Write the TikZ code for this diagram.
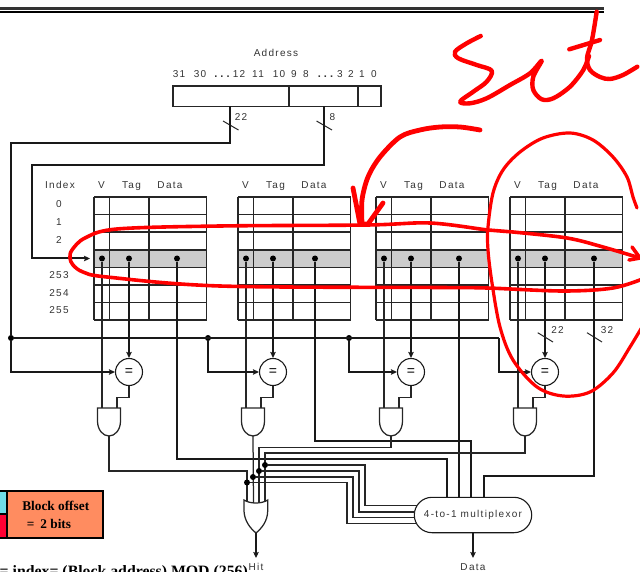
\documentclass[tikz,border=0pt]{standalone}
\usepackage{xcolor}
\usepackage{fontspec}
\setmainfont[LetterSpace=13]{Liberation Sans}
\newfontfamily\slidefont{Liberation Serif}
\usepackage{tikz}
\usetikzlibrary{arrows.meta,positioning,calc,shapes.misc}
\definecolor{inkred}{HTML}{FF0000}
\definecolor{offsetbox}{HTML}{FF8C60}
\definecolor{indexbox}{HTML}{70DCE8}
\definecolor{tagbox}{HTML}{FF0033}

\begin{document}
\begin{tikzpicture}[x=1pt, y=-1pt,
  lab/.style={font=\fontsize{10}{12}\selectfont, text=black!80, inner sep=0pt},
  cell/.style={line width=1.1pt, draw=black!85},
  wire/.style={line width=2pt, draw=black!90},
  thinwire/.style={line width=1.25pt, draw=black!85},
  arr/.style={wire, -{Stealth[length=6pt,width=5.5pt,inset=1pt]}},
  dot/.style={circle, fill=black, inner sep=0pt, minimum size=6pt},
  eqnode/.style={circle, draw=black!90, line width=1.1pt, fill=white, inner sep=0pt,
    minimum size=27pt, font=\fontsize{14}{14}\selectfont},
  tick/.style={line width=1pt, draw=black!85},
  ink/.style={draw=inkred, line cap=round, line join=round, line width=3.6pt}]
  \path[use as bounding box, clip] (0,0) rectangle (640,572);

  % top rule of the slide
  \draw[line width=2.2pt, black!80] (0,8.5) -- (604,8.5);
  \draw[line width=1.2pt] (0,12) -- (604,12);

  % address register
  \node[lab] (addrlabel) at (276,53) {Address};
  \foreach \t/\x in {31/179,30/200,12/239,11/258,10/279,9/294,8/306,3/340,2/351,1/362,0/374}
    \node[lab] (bit\t) at (\x,74) {\t};
  \node[lab, font=\bfseries\fontsize{11}{12}\selectfont, anchor=base] (dotsa) at (222,77.5) {.\hspace{3pt}.\hspace{3pt}.};
  \node[lab, font=\bfseries\fontsize{11}{12}\selectfont, anchor=base] (dotsb) at (325.5,77.5) {.\hspace{3pt}.\hspace{3pt}.};
  \draw[cell] (173,86) rectangle (381,106.5);
  \draw[cell] (289,86) -- (289,106.5) (358,86) -- (358,106.5);
  \coordinate (tagout) at (230,106.5);
  \coordinate (idxout) at (324,106.5);
  \coordinate (tagbend) at (11,143);
  \coordinate (idxbend) at (32,165);
  \coordinate (idxin) at (90,258.5);
  \draw[tick] (223,121) -- (238.5,130);
  \draw[tick] (316.5,121) -- (332,130);
  \node[lab] (taglen) at (241,117) {22};
  \node[lab] (idxlen) at (332.5,117) {8};

  % index labels
  \node[lab, anchor=base] (idxhead) at (60,188.5) {Index};
  \foreach \t/\y in {0/204,1/222,2/240,253/275,254/293,255/310}
    \node[lab] (row\t) at (59,\y) {\t};

  % the four ways
  \foreach \n/\xl/\xd in {1/94/177,2/238/315,3/376/459,4/510/594} {
    \fill[black!20] (\xl,250) rectangle (\xl+112.5,267.7);
    \foreach \y in {197,214.4,232,250,267.7,285,302.7,320}
      \draw[cell] (\xl,\y) -- (\xl+112.5,\y);
    \foreach \dx in {0,15.5,55,112.5}
      \draw[cell] (\xl+\dx,197) -- (\xl+\dx,320);
    \node[lab, anchor=base] (vhead\n) at (\xl+7.5,188.5) {V};
    \node[lab, anchor=base] (taghead\n) at (\xl+37.5,188.5) {Tag};
    \node[lab, anchor=base] (datahead\n) at (\xl+76,188.5) {Data};
    \node[dot] (v\n) at (\xl+8,258.5) {};
    \node[dot] (tag\n) at (\xl+35,258.5) {};
    \node[dot] (data\n) at (\xd,258.5) {};
    \node[eqnode] (eq\n) at (\xl+35,372) {=};
    \draw[arr] (tag\n) -- (eq\n);
    \coordinate (anda\n) at (\xl+8,408);
    \coordinate (andb\n) at (\xl+23,408);
    \coordinate (andout\n) at (\xl+15,436);
    \draw[thinwire] (v\n) -- (anda\n);
    \draw[thinwire] (eq\n.south) -- ++(0,11.5) -| (andb\n);
    \draw[thinwire] (\xl+3.5,408) -- (\xl+26.5,408) -- (\xl+26.5,421)
      .. controls (\xl+26.5,430) and (\xl+21,436) .. (andout\n)
      .. controls (\xl+9,436) and (\xl+3.5,430) .. (\xl+3.5,421) -- cycle;
  }
  \draw[tick] (537.7,332.7) -- (553,342);
  \draw[tick] (587,332.7) -- (602,342);
  \node[lab] (taglenb) at (557.5,330) {22};
  \node[lab] (datalen) at (607,330) {32};

  % tag and index lines from the address
  \node[dot] (busa) at (11,338) {};
  \node[dot] (busb) at (208,338) {};
  \node[dot] (busc) at (349,338) {};
  \coordinate (busend) at (499,338);
  \draw[wire] (tagout) |- (tagbend) -- (busa);
  \draw[wire] (busa) -- (busend);
  \draw[arr] (idxout) |- (idxbend) |- (idxin);
  \draw[arr] (busa) |- (eq1);
  \draw[arr] (busb) |- (eq2);
  \draw[arr] (busc) |- (eq3);
  \draw[arr] (busend) |- (eq4);

  % multiplexor
  \node[draw=black!90, line width=1.1pt, rounded rectangle, minimum width=117.4pt,
    minimum height=35.4pt, inner sep=0pt, lab] (mux) at (473,515) {4-to-1 multiplexor};
  \foreach \n/\y/\x in {1/459/446.7,2/441/471,4/476/484} {
    \coordinate (mtop\n) at (\x,497.3);
    \draw[wire] (data\n) |- (\x,\y) -- (mtop\n);
  }
  \coordinate (mtop3) at (459,497.3);
  \draw[wire] (data3) -- (mtop3);
  \coordinate (dataout) at (473,558);
  \draw[arr] (mux) -- (dataout);
  \node[lab] (datalabel) at (473,567.5) {Data};

  % hit logic
  \coordinate (ora) at (247,502);
  \coordinate (orb) at (253.5,503);
  \coordinate (orc) at (259,503);
  \coordinate (ord) at (265,501.5);
  \coordinate (orout) at (256,533);
  \coordinate (hitout) at (256,558);
  \draw[thinwire] (andout1) -- ++(0,35) -| (ora);
  \draw[thinwire] (andout2) -- (orb);
  \draw[thinwire] (andout3) -- ++(0,11.5) -| (orc);
  \draw[thinwire] (andout4) -- ++(0,17) -| (ord);
  \draw[thinwire] (244,500) .. controls (250,504) and (262,504) .. (267.7,500)
    -- (267.7,511) .. controls (267.5,521) and (262,528) .. (orout)
    .. controls (250,528) and (244.5,521) .. (244,511) -- cycle;
  \draw[arr, line width=1.1pt] (orout) -- (hitout);
  \node[lab] (hitlabel) at (256,567) {Hit};
  \node[dot] (ja) at (247,482.5) {};
  \node[dot] (jb) at (253,477) {};
  \node[dot] (jc) at (259,471) {};
  \node[dot] (jd) at (265,465) {};
  \coordinate (muxa) at (416.6,523.7);
  \coordinate (muxb) at (414.5,517.7);
  \coordinate (muxc) at (414.6,512);
  \coordinate (muxd) at (417,505.7);
  \foreach \a/\b in {ja/muxa,jb/muxb,jc/muxc,jd/muxd}
    \draw[thinwire] (\a) -- ++(100,0) |- (\b);

  % the boxes at the lower left
  \draw[line width=2pt, fill=indexbox] (-3,491) rectangle (7,514);
  \draw[line width=2pt, fill=tagbox] (-3,514) rectangle (7,538);
  \node[draw, line width=2pt, fill=offsetbox, minimum width=96pt, minimum height=47pt,
    align=left, inner sep=0pt, font=\slidefont\bfseries\fontsize{13.3}{18}\selectfont]
    (offset) at (55,514.5) {\hspace{1.5pt}Block offset\\\hspace{6pt}=\hspace{6pt}2 bits};
  \node[anchor=base west, inner sep=0pt, font=\slidefont\bfseries\fontsize{15.8}{18}\selectfont]
    (modline) at (-0.5,576) {= index= (Block address) MOD (256)};

  % red pen
  \draw[ink, line width=4.4pt] plot[smooth, tension=0.55] coordinates {(480.7,36) (466.7,43.3) (455,51.7) (458.3,58.3) (476.7,65) (491.7,70.7) (486.7,81.7) (473.3,91.7) (460,101.7) (470,103.3) (486.7,98.3) (510,85) (530,73.3) (541.7,60.7) (533.3,76.7) (533.3,90) (541.7,99.3) (553.3,98.3) (570,86.7) (583.3,70) (589,56)};
  \draw[ink, line width=4.4pt] plot[smooth, tension=0.55] coordinates {(596.7,11.7) (592,40) (587,58) (590,70) (600,77) (610,79) (623,75) (637.3,66.7)};
  \draw[ink, line width=4.4pt] (569.3,49.3) -- (600,40);
  \draw[ink] plot[smooth, tension=0.55] coordinates {(640,258) (603,247) (567,238) (513,232) (488,230) (430,223) (367,225) (220,226) (117,229) (85,238) (72,250) (70,258) (73,265) (83,272) (107,277) (220,286) (440,287.5) (487,288) (563,291) (613,288) (645,278)};
  \draw[ink] (632,247) -- (640,258) -- (629,260);
  \draw[ink, line width=3.2pt] plot[smooth, tension=0.55] coordinates {(637,208) (633,197) (627,177) (613,157) (593,140) (570,133) (543,138) (520,152) (503,170) (493,193) (488,227) (488,250) (492,283) (500,327) (513,360) (537,387) (563,396) (590,392) (613,373) (630,347) (645,322)};
  \draw[ink, line width=4.8pt] plot[smooth, tension=0.55] coordinates {(480,130) (460,127) (440,127) (420,130) (400,137) (380,157) (368,177) (362,200) (362,223)};
  \draw[ink, line width=4.8pt] (353,188) -- (360,224) -- (368,224) -- (383,203);
\end{tikzpicture}
\end{document}
